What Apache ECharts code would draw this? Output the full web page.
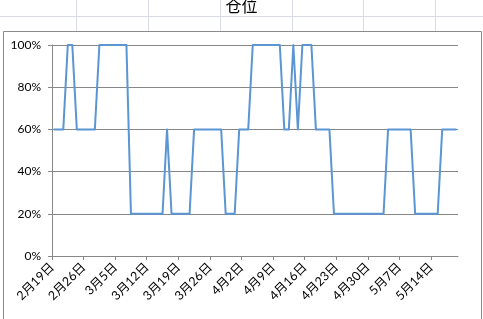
<!DOCTYPE html>
<html>
<head>
<meta charset="utf-8">
<script src="https://cdn.jsdelivr.net/npm/echarts@6/dist/echarts.min.js"></script>
<style>
html,body{margin:0;padding:0;background:#fff;}
#c{width:483px;height:319px;}
</style>
</head>
<body>
<div id="c"></div>
<script>
// Chart title
const title = '仓位';
// Weekly tick labels (every 7 days starting 2月19日)
const tickLabels = ['2月19日','2月26日','3月5日','3月12日','3月19日','3月26日','4月2日','4月9日','4月16日','4月23日','4月30日','5月7日','5月14日'];
// Number of days on the axis (2月19日 .. 5月19日)
const dayCount = 90;
// Daily position (%) starting 2月19日
const position = [
  60,60,60,100,100,60,60,
  60,60,60,100,100,100,100,
  100,100,100,20,20,20,20,
  20,20,20,20,60,20,20,
  20,20,20,60,60,60,60,
  60,60,60,20,20,20,60,
  60,60,100,100,100,100,100,
  100,100,60,60,100,60,100,
  100,100,60,60,60,60,20,
  20,20,20,20,20,20,20,
  20,20,20,20,60,60,60,
  60,60,60,20,20,20,20,
  20,20,60,60,60,60
];
const yTicks = [0,20,40,60,80,100];

const chart = echarts.init(document.getElementById('c'), null, {renderer:'canvas'});
const gridColor = '#878787';
const bgLine = '#d9dce6';
const graphics = [];
[76,148,220,292,363,435].forEach(x=>{
  graphics.push({type:'line', silent:true, z:-10, shape:{x1:x+0.5,y1:0,x2:x+0.5,y2:31}, style:{stroke:bgLine,lineWidth:1}});
});
graphics.push({type:'line', silent:true, z:-10, shape:{x1:0,y1:16.5,x2:483,y2:16.5}, style:{stroke:bgLine,lineWidth:1}});
graphics.push({type:'rect', silent:true, z:-5, shape:{x:3.5,y:31.5,width:478,height:320}, style:{fill:'#fff',stroke:'#8a8a8a',lineWidth:1}});

chart.setOption({
  animation:false,
  backgroundColor:'#fff',
  title:{text:title, left:'center', top:-2, itemGap:0, padding:0,
    textStyle:{fontFamily:'Noto Sans CJK SC', fontSize:16, fontWeight:'normal', color:'#000'}},
  graphic:graphics,
  grid:{left:52, right:25, top:45, bottom:63, containLabel:false},
  xAxis:{
    type:'value', min:0, max:dayCount,
    axisLine:{show:true, onZero:false, lineStyle:{color:gridColor, width:1}},
    axisTick:{show:true, length:4, inside:false, customValues:tickLabels.map((_,i)=>i*7), lineStyle:{color:gridColor}},
    splitLine:{show:false},
    axisLabel:{rotate:45, margin:9, fontSize:12.5, color:'#000', fontFamily:'Lato, Noto Sans CJK SC',
      customValues:tickLabels.map((_,i)=>i*7),
      formatter:v=>tickLabels[Math.round(v/7)]}
  },
  yAxis:{
    type:'value', min:0, max:100, interval:20,
    axisLine:{show:true, lineStyle:{color:gridColor, width:1}},
    axisTick:{show:true, length:4, lineStyle:{color:gridColor}},
    splitLine:{show:true, lineStyle:{color:gridColor, width:1}},
    axisLabel:{margin:11, fontSize:12, color:'#000', fontFamily:'Lato', formatter:'{value}%'}
  },
  series:[{
    type:'line', name:title,
    data:position.map((v,i)=>[i+0.5, v]),
    symbol:'none', smooth:false,
    lineStyle:{color:'#5b96d3', width:2, join:'round', cap:'round'}
  }]
});
</script>
</body>
</html>
